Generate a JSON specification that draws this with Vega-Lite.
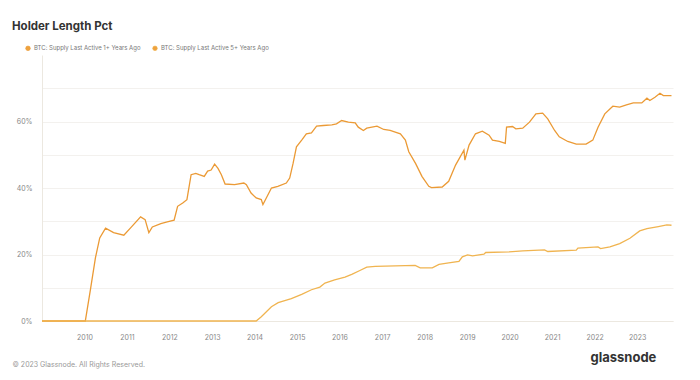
{
  "$schema": "https://vega.github.io/schema/vega-lite/v6.json",
  "width": 631,
  "height": 266,
  "autosize": {"type": "none"},
  "padding": {"left": 42, "top": 55, "right": 27, "bottom": 59},
  "background": "white",
  "config": {
    "font": "Inter",
    "view": {"stroke": null}
  },
  "title": {
    "text": "Holder Length Pct",
    "anchor": "start",
    "frame": "group",
    "dx": -30,
    "offset": 13,
    "fontSize": 11.5,
    "fontWeight": "bold",
    "color": "#333333",
    "font": "Inter"
  },
  "datasets": {
    "pts": [
      {"date": "2009-01-01", "series": "BTC: Supply Last Active 1+ Years Ago", "pct": 0},
      {"date": "2010-01-08", "series": "BTC: Supply Last Active 1+ Years Ago", "pct": 0},
      {"date": "2010-02-20", "series": "BTC: Supply Last Active 1+ Years Ago", "pct": 9.2},
      {"date": "2010-04-05", "series": "BTC: Supply Last Active 1+ Years Ago", "pct": 19},
      {"date": "2010-05-12", "series": "BTC: Supply Last Active 1+ Years Ago", "pct": 25},
      {"date": "2010-07-01", "series": "BTC: Supply Last Active 1+ Years Ago", "pct": 27.9},
      {"date": "2010-09-08", "series": "BTC: Supply Last Active 1+ Years Ago", "pct": 26.6},
      {"date": "2010-12-05", "series": "BTC: Supply Last Active 1+ Years Ago", "pct": 25.8},
      {"date": "2011-02-03", "series": "BTC: Supply Last Active 1+ Years Ago", "pct": 28.1},
      {"date": "2011-04-28", "series": "BTC: Supply Last Active 1+ Years Ago", "pct": 31.3},
      {"date": "2011-06-06", "series": "BTC: Supply Last Active 1+ Years Ago", "pct": 30.5},
      {"date": "2011-07-08", "series": "BTC: Supply Last Active 1+ Years Ago", "pct": 26.6},
      {"date": "2011-08-07", "series": "BTC: Supply Last Active 1+ Years Ago", "pct": 28.3},
      {"date": "2011-10-19", "series": "BTC: Supply Last Active 1+ Years Ago", "pct": 29.3},
      {"date": "2011-12-13", "series": "BTC: Supply Last Active 1+ Years Ago", "pct": 29.8},
      {"date": "2012-02-10", "series": "BTC: Supply Last Active 1+ Years Ago", "pct": 30.3},
      {"date": "2012-03-11", "series": "BTC: Supply Last Active 1+ Years Ago", "pct": 34.5},
      {"date": "2012-04-24", "series": "BTC: Supply Last Active 1+ Years Ago", "pct": 35.5},
      {"date": "2012-05-30", "series": "BTC: Supply Last Active 1+ Years Ago", "pct": 36.5},
      {"date": "2012-07-05", "series": "BTC: Supply Last Active 1+ Years Ago", "pct": 44},
      {"date": "2012-08-14", "series": "BTC: Supply Last Active 1+ Years Ago", "pct": 44.4},
      {"date": "2012-09-12", "series": "BTC: Supply Last Active 1+ Years Ago", "pct": 44},
      {"date": "2012-10-26", "series": "BTC: Supply Last Active 1+ Years Ago", "pct": 43.5},
      {"date": "2012-11-24", "series": "BTC: Supply Last Active 1+ Years Ago", "pct": 45.1},
      {"date": "2012-12-24", "series": "BTC: Supply Last Active 1+ Years Ago", "pct": 45.4},
      {"date": "2013-01-23", "series": "BTC: Supply Last Active 1+ Years Ago", "pct": 47.2},
      {"date": "2013-02-21", "series": "BTC: Supply Last Active 1+ Years Ago", "pct": 45.9},
      {"date": "2013-03-22", "series": "BTC: Supply Last Active 1+ Years Ago", "pct": 44},
      {"date": "2013-04-23", "series": "BTC: Supply Last Active 1+ Years Ago", "pct": 41.2},
      {"date": "2013-07-13", "series": "BTC: Supply Last Active 1+ Years Ago", "pct": 41},
      {"date": "2013-10-01", "series": "BTC: Supply Last Active 1+ Years Ago", "pct": 41.5},
      {"date": "2013-10-23", "series": "BTC: Supply Last Active 1+ Years Ago", "pct": 41},
      {"date": "2013-12-02", "series": "BTC: Supply Last Active 1+ Years Ago", "pct": 38.5},
      {"date": "2014-01-15", "series": "BTC: Supply Last Active 1+ Years Ago", "pct": 37},
      {"date": "2014-02-28", "series": "BTC: Supply Last Active 1+ Years Ago", "pct": 36.5},
      {"date": "2014-03-14", "series": "BTC: Supply Last Active 1+ Years Ago", "pct": 35},
      {"date": "2014-04-12", "series": "BTC: Supply Last Active 1+ Years Ago", "pct": 37},
      {"date": "2014-05-26", "series": "BTC: Supply Last Active 1+ Years Ago", "pct": 40},
      {"date": "2014-07-20", "series": "BTC: Supply Last Active 1+ Years Ago", "pct": 40.5},
      {"date": "2014-10-01", "series": "BTC: Supply Last Active 1+ Years Ago", "pct": 41.5},
      {"date": "2014-10-30", "series": "BTC: Supply Last Active 1+ Years Ago", "pct": 43},
      {"date": "2014-11-28", "series": "BTC: Supply Last Active 1+ Years Ago", "pct": 47.4},
      {"date": "2014-12-27", "series": "BTC: Supply Last Active 1+ Years Ago", "pct": 52.4},
      {"date": "2015-02-10", "series": "BTC: Supply Last Active 1+ Years Ago", "pct": 54.4},
      {"date": "2015-03-22", "series": "BTC: Supply Last Active 1+ Years Ago", "pct": 56.3},
      {"date": "2015-05-05", "series": "BTC: Supply Last Active 1+ Years Ago", "pct": 56.6},
      {"date": "2015-06-18", "series": "BTC: Supply Last Active 1+ Years Ago", "pct": 58.6},
      {"date": "2015-08-15", "series": "BTC: Supply Last Active 1+ Years Ago", "pct": 58.8},
      {"date": "2015-10-27", "series": "BTC: Supply Last Active 1+ Years Ago", "pct": 59},
      {"date": "2015-12-06", "series": "BTC: Supply Last Active 1+ Years Ago", "pct": 59.3},
      {"date": "2016-01-19", "series": "BTC: Supply Last Active 1+ Years Ago", "pct": 60.3},
      {"date": "2016-03-17", "series": "BTC: Supply Last Active 1+ Years Ago", "pct": 59.8},
      {"date": "2016-05-15", "series": "BTC: Supply Last Active 1+ Years Ago", "pct": 59.6},
      {"date": "2016-06-10", "series": "BTC: Supply Last Active 1+ Years Ago", "pct": 58.3},
      {"date": "2016-07-24", "series": "BTC: Supply Last Active 1+ Years Ago", "pct": 57.3},
      {"date": "2016-08-22", "series": "BTC: Supply Last Active 1+ Years Ago", "pct": 58},
      {"date": "2016-11-18", "series": "BTC: Supply Last Active 1+ Years Ago", "pct": 58.6},
      {"date": "2017-01-15", "series": "BTC: Supply Last Active 1+ Years Ago", "pct": 57.6},
      {"date": "2017-03-11", "series": "BTC: Supply Last Active 1+ Years Ago", "pct": 57.3},
      {"date": "2017-04-24", "series": "BTC: Supply Last Active 1+ Years Ago", "pct": 56.8},
      {"date": "2017-06-07", "series": "BTC: Supply Last Active 1+ Years Ago", "pct": 56.3},
      {"date": "2017-07-20", "series": "BTC: Supply Last Active 1+ Years Ago", "pct": 54.4},
      {"date": "2017-08-18", "series": "BTC: Supply Last Active 1+ Years Ago", "pct": 50.9},
      {"date": "2017-10-15", "series": "BTC: Supply Last Active 1+ Years Ago", "pct": 47.4},
      {"date": "2017-12-09", "series": "BTC: Supply Last Active 1+ Years Ago", "pct": 43.5},
      {"date": "2018-02-06", "series": "BTC: Supply Last Active 1+ Years Ago", "pct": 40.5},
      {"date": "2018-03-01", "series": "BTC: Supply Last Active 1+ Years Ago", "pct": 40.1},
      {"date": "2018-06-01", "series": "BTC: Supply Last Active 1+ Years Ago", "pct": 40.3},
      {"date": "2018-07-27", "series": "BTC: Supply Last Active 1+ Years Ago", "pct": 42},
      {"date": "2018-09-24", "series": "BTC: Supply Last Active 1+ Years Ago", "pct": 46.9},
      {"date": "2018-12-05", "series": "BTC: Supply Last Active 1+ Years Ago", "pct": 51.4},
      {"date": "2018-12-13", "series": "BTC: Supply Last Active 1+ Years Ago", "pct": 48.4},
      {"date": "2019-01-18", "series": "BTC: Supply Last Active 1+ Years Ago", "pct": 52.9},
      {"date": "2019-03-14", "series": "BTC: Supply Last Active 1+ Years Ago", "pct": 56.3},
      {"date": "2019-05-12", "series": "BTC: Supply Last Active 1+ Years Ago", "pct": 57.1},
      {"date": "2019-07-09", "series": "BTC: Supply Last Active 1+ Years Ago", "pct": 55.9},
      {"date": "2019-08-07", "series": "BTC: Supply Last Active 1+ Years Ago", "pct": 54.4},
      {"date": "2019-10-05", "series": "BTC: Supply Last Active 1+ Years Ago", "pct": 54},
      {"date": "2019-11-25", "series": "BTC: Supply Last Active 1+ Years Ago", "pct": 53.4},
      {"date": "2019-12-06", "series": "BTC: Supply Last Active 1+ Years Ago", "pct": 58.3},
      {"date": "2020-01-26", "series": "BTC: Supply Last Active 1+ Years Ago", "pct": 58.5},
      {"date": "2020-02-24", "series": "BTC: Supply Last Active 1+ Years Ago", "pct": 57.8},
      {"date": "2020-04-23", "series": "BTC: Supply Last Active 1+ Years Ago", "pct": 58},
      {"date": "2020-06-20", "series": "BTC: Supply Last Active 1+ Years Ago", "pct": 59.8},
      {"date": "2020-08-14", "series": "BTC: Supply Last Active 1+ Years Ago", "pct": 62.3},
      {"date": "2020-10-11", "series": "BTC: Supply Last Active 1+ Years Ago", "pct": 62.5},
      {"date": "2020-11-24", "series": "BTC: Supply Last Active 1+ Years Ago", "pct": 60.8},
      {"date": "2021-01-22", "series": "BTC: Supply Last Active 1+ Years Ago", "pct": 57.3},
      {"date": "2021-03-03", "series": "BTC: Supply Last Active 1+ Years Ago", "pct": 55.4},
      {"date": "2021-05-15", "series": "BTC: Supply Last Active 1+ Years Ago", "pct": 54},
      {"date": "2021-07-27", "series": "BTC: Supply Last Active 1+ Years Ago", "pct": 53.2},
      {"date": "2021-10-19", "series": "BTC: Supply Last Active 1+ Years Ago", "pct": 53.2},
      {"date": "2021-12-16", "series": "BTC: Supply Last Active 1+ Years Ago", "pct": 54.4},
      {"date": "2022-01-30", "series": "BTC: Supply Last Active 1+ Years Ago", "pct": 58.3},
      {"date": "2022-03-29", "series": "BTC: Supply Last Active 1+ Years Ago", "pct": 62.3},
      {"date": "2022-06-06", "series": "BTC: Supply Last Active 1+ Years Ago", "pct": 64.6},
      {"date": "2022-08-04", "series": "BTC: Supply Last Active 1+ Years Ago", "pct": 64.3},
      {"date": "2022-10-01", "series": "BTC: Supply Last Active 1+ Years Ago", "pct": 65},
      {"date": "2022-11-29", "series": "BTC: Supply Last Active 1+ Years Ago", "pct": 65.6},
      {"date": "2023-02-10", "series": "BTC: Supply Last Active 1+ Years Ago", "pct": 65.6},
      {"date": "2023-03-26", "series": "BTC: Supply Last Active 1+ Years Ago", "pct": 67},
      {"date": "2023-04-20", "series": "BTC: Supply Last Active 1+ Years Ago", "pct": 66.3},
      {"date": "2023-06-03", "series": "BTC: Supply Last Active 1+ Years Ago", "pct": 67.3},
      {"date": "2023-07-16", "series": "BTC: Supply Last Active 1+ Years Ago", "pct": 68.5},
      {"date": "2023-08-14", "series": "BTC: Supply Last Active 1+ Years Ago", "pct": 67.8},
      {"date": "2023-10-23", "series": "BTC: Supply Last Active 1+ Years Ago", "pct": 67.8},
      {"date": "2009-01-01", "series": "BTC: Supply Last Active 5+ Years Ago", "pct": 0},
      {"date": "2014-01-15", "series": "BTC: Supply Last Active 5+ Years Ago", "pct": 0},
      {"date": "2014-02-28", "series": "BTC: Supply Last Active 5+ Years Ago", "pct": 1.3},
      {"date": "2014-05-26", "series": "BTC: Supply Last Active 5+ Years Ago", "pct": 4.3},
      {"date": "2014-07-23", "series": "BTC: Supply Last Active 5+ Years Ago", "pct": 5.5},
      {"date": "2014-11-13", "series": "BTC: Supply Last Active 5+ Years Ago", "pct": 6.7},
      {"date": "2015-02-10", "series": "BTC: Supply Last Active 5+ Years Ago", "pct": 8},
      {"date": "2015-05-05", "series": "BTC: Supply Last Active 5+ Years Ago", "pct": 9.4},
      {"date": "2015-07-16", "series": "BTC: Supply Last Active 5+ Years Ago", "pct": 10.2},
      {"date": "2015-08-29", "series": "BTC: Supply Last Active 5+ Years Ago", "pct": 11.4},
      {"date": "2015-11-20", "series": "BTC: Supply Last Active 5+ Years Ago", "pct": 12.4},
      {"date": "2016-02-17", "series": "BTC: Supply Last Active 5+ Years Ago", "pct": 13.2},
      {"date": "2016-04-15", "series": "BTC: Supply Last Active 5+ Years Ago", "pct": 14},
      {"date": "2016-06-24", "series": "BTC: Supply Last Active 5+ Years Ago", "pct": 15.2},
      {"date": "2016-08-22", "series": "BTC: Supply Last Active 5+ Years Ago", "pct": 16.2},
      {"date": "2016-11-03", "series": "BTC: Supply Last Active 5+ Years Ago", "pct": 16.4},
      {"date": "2017-04-24", "series": "BTC: Supply Last Active 5+ Years Ago", "pct": 16.6},
      {"date": "2017-10-12", "series": "BTC: Supply Last Active 5+ Years Ago", "pct": 16.7},
      {"date": "2017-11-24", "series": "BTC: Supply Last Active 5+ Years Ago", "pct": 16},
      {"date": "2018-03-08", "series": "BTC: Supply Last Active 5+ Years Ago", "pct": 16},
      {"date": "2018-05-05", "series": "BTC: Supply Last Active 5+ Years Ago", "pct": 17},
      {"date": "2018-07-27", "series": "BTC: Supply Last Active 5+ Years Ago", "pct": 17.5},
      {"date": "2018-10-23", "series": "BTC: Supply Last Active 5+ Years Ago", "pct": 17.9},
      {"date": "2018-11-21", "series": "BTC: Supply Last Active 5+ Years Ago", "pct": 19.3},
      {"date": "2019-01-05", "series": "BTC: Supply Last Active 5+ Years Ago", "pct": 19.9},
      {"date": "2019-02-17", "series": "BTC: Supply Last Active 5+ Years Ago", "pct": 19.6},
      {"date": "2019-05-26", "series": "BTC: Supply Last Active 5+ Years Ago", "pct": 20.1},
      {"date": "2019-06-10", "series": "BTC: Supply Last Active 5+ Years Ago", "pct": 20.6},
      {"date": "2019-12-28", "series": "BTC: Supply Last Active 5+ Years Ago", "pct": 20.8},
      {"date": "2020-04-23", "series": "BTC: Supply Last Active 5+ Years Ago", "pct": 21.1},
      {"date": "2020-10-27", "series": "BTC: Supply Last Active 5+ Years Ago", "pct": 21.4},
      {"date": "2020-11-24", "series": "BTC: Supply Last Active 5+ Years Ago", "pct": 20.9},
      {"date": "2021-07-27", "series": "BTC: Supply Last Active 5+ Years Ago", "pct": 21.3},
      {"date": "2021-08-10", "series": "BTC: Supply Last Active 5+ Years Ago", "pct": 21.9},
      {"date": "2022-01-30", "series": "BTC: Supply Last Active 5+ Years Ago", "pct": 22.3},
      {"date": "2022-02-21", "series": "BTC: Supply Last Active 5+ Years Ago", "pct": 21.8},
      {"date": "2022-05-12", "series": "BTC: Supply Last Active 5+ Years Ago", "pct": 22.3},
      {"date": "2022-08-04", "series": "BTC: Supply Last Active 5+ Years Ago", "pct": 23.3},
      {"date": "2022-10-31", "series": "BTC: Supply Last Active 5+ Years Ago", "pct": 24.9},
      {"date": "2023-01-23", "series": "BTC: Supply Last Active 5+ Years Ago", "pct": 27.1},
      {"date": "2023-03-26", "series": "BTC: Supply Last Active 5+ Years Ago", "pct": 27.8},
      {"date": "2023-07-02", "series": "BTC: Supply Last Active 5+ Years Ago", "pct": 28.4},
      {"date": "2023-09-13", "series": "BTC: Supply Last Active 5+ Years Ago", "pct": 28.9},
      {"date": "2023-10-23", "series": "BTC: Supply Last Active 5+ Years Ago", "pct": 28.8}
    ]
  },
  "data": {"name": "pts"},
  "mark": {"type": "line", "strokeWidth": 1.3, "interpolate": "linear"},
  "encoding": {
    "x": {
      "field": "date",
      "type": "temporal",
      "scale": {"domain": ["2009-01-01", "2023-11-05"]},
      "axis": {
        "format": "%Y",
        "tickCount": {"interval": "year", "step": 1},
        "labelExpr": "year(datum.value) < 2010 ? '' : timeFormat(datum.value, '%Y')",
        "grid": false,
        "ticks": false,
        "domainColor": "#ece8e0",
        "labelColor": "#888888",
        "labelFontSize": 7,
        "labelPadding": 12,
        "labelFlush": false,
        "title": "© 2023 Glassnode. All Rights Reserved.",
        "titleX": -30,
        "titleY": 43,
        "titleAlign": "left",
        "titleAnchor": null,
        "titleBaseline": "middle",
        "titleFontSize": 7,
        "titleFontWeight": "normal",
        "titleColor": "#999999"
      }
    },
    "y": {
      "field": "pct",
      "type": "quantitative",
      "scale": {"domain": [0, 80], "nice": false},
      "axis": {
        "values": [0, 10, 20, 30, 40, 50, 60, 70],
        "labelExpr": "datum.value % 20 == 0 ? datum.value + '%' : ''",
        "gridColor": "#f3f1ee",
        "ticks": false,
        "domainColor": "#ece8e0",
        "labelColor": "#888888",
        "labelFontSize": 7,
        "labelPadding": 10,
        "title": "glassnode",
        "titleAngle": 0,
        "titleX": 548,
        "titleY": 302,
        "titleAlign": "left",
        "titleBaseline": "middle",
        "titleFontSize": 13,
        "titleFontWeight": "bold",
        "titleColor": "#333333"
      }
    },
    "color": {
      "field": "series",
      "type": "nominal",
      "scale": {
        "domain": ["BTC: Supply Last Active 1+ Years Ago", "BTC: Supply Last Active 5+ Years Ago"],
        "range": ["#eb9a35", "#f0b450"]
      },
      "legend": {
        "orient": "none",
        "legendX": -17,
        "legendY": -10,
        "direction": "horizontal",
        "title": null,
        "symbolType": "circle",
        "symbolSize": 22,
        "symbolFillColor": "#eea23e",
        "symbolStrokeWidth": 0.5,
        "labelFontSize": 6,
        "labelColor": "#777777",
        "columnPadding": 10,
        "labelOffset": 3
      }
    }
  }
}
